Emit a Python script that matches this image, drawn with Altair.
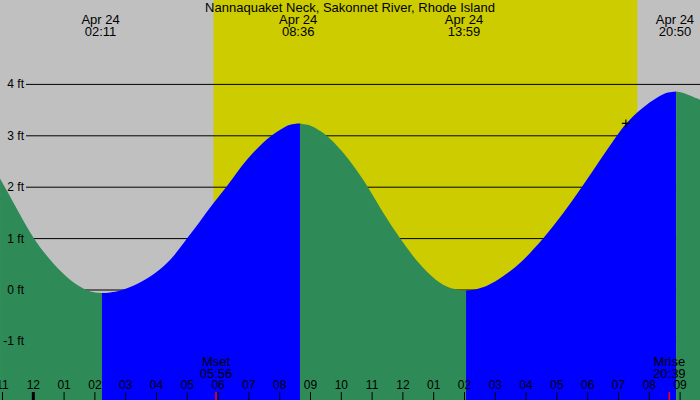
import altair as alt
import pandas as pd

# ---- data ----
TITLE = "Nannaquaket Neck, Sakonnet River, Rhode Island"

# tide curve (hours from Apr 24 00:00, height in ft), split at the turning points
seg_f0_t = [-1.08, -0.92, -0.46, 0.00, 0.54, 1.08, 1.62, 1.94, 2.23]
seg_f0_h = [2.17, 2.00, 1.50, 1.00, 0.58, 0.24, 0.02, -0.05, -0.06]
seg_r1_t = [2.23, 2.49, 2.82, 3.46, 4.11, 4.60, 4.98, 5.41, 5.84, 6.28, 6.71, 7.20, 7.69, 8.17, 8.40, 8.66]
seg_r1_h = [-0.06, -0.05, -0.02, 0.13, 0.38, 0.68, 1.00, 1.33, 1.69, 2.00, 2.38, 2.72, 3.00, 3.18, 3.23, 3.24]
seg_f2_t = [8.66, 8.92, 9.11, 9.58, 10.28, 10.88, 11.36, 11.91, 12.45, 13.10, 13.50, 13.79, 14.05]
seg_f2_h = [3.24, 3.22, 3.17, 3.00, 2.53, 2.00, 1.49, 1.00, 0.55, 0.16, 0.04, 0.00, -0.01]
seg_r3_t = [14.05, 14.31, 14.50, 14.94, 15.70, 16.13, 16.56, 17.21, 17.81, 18.40, 18.94, 19.24, 19.70, 20.35, 20.61, 20.87]
seg_r3_h = [-0.01, 0.00, 0.03, 0.13, 0.45, 0.72, 1.00, 1.49, 2.00, 2.53, 3.00, 3.24, 3.52, 3.79, 3.85, 3.86]
seg_f4_t = [20.87, 21.13, 21.65]
seg_f4_h = [3.86, 3.84, 3.70]

# tide events (top labels)
event_t = [2.183, 8.600, 13.983, 20.833]
event_date = ["Apr 24", "Apr 24", "Apr 24", "Apr 24"]
event_time = ["02:11", "08:36", "13:59", "20:50"]

# daylight
sunrise_t = 5.85
sunset_t = 19.61

# moon events
moon_t = [5.933, 20.65]
moon_name = ["Mset", "Mrise"]
moon_time = ["05:56", "20:39"]

# hour ticks
hour_t = list(range(-1, 22))
hour_lab = ["11", "12", "01", "02", "03", "04", "05", "06", "07", "08", "09", "10",
            "11", "12", "01", "02", "03", "04", "05", "06", "07", "08", "09"]

# y grid
grid_ft = [-1, 0, 1, 2, 3, 4]
grid_lab = ["-1 ft", "0 ft", "1 ft", "2 ft", "3 ft", "4 ft"]

# marker
mark_t = [19.24]
mark_h = [3.24]

# ---- scales ----
X0, X1 = -33.3 / 30.8, (700 - 33.3) / 30.8
Y0, Y1 = -110 / 51.4, 290 / 51.4
xs = alt.Scale(domain=[X0, X1], nice=False, zero=False)
ys = alt.Scale(domain=[Y0, Y1], nice=False, zero=False)

rows = []
for name, kind, ts, hs in [("f0", "fall", seg_f0_t, seg_f0_h), ("r1", "rise", seg_r1_t, seg_r1_h),
                           ("f2", "fall", seg_f2_t, seg_f2_h), ("r3", "rise", seg_r3_t, seg_r3_h),
                           ("f4", "fall", seg_f4_t, seg_f4_h)]:
    for t, h in zip(ts, hs):
        rows.append({"t": t, "h": h, "seg": name, "kind": kind})
curve = pd.DataFrame(rows)

FONT = "Liberation Sans"

day = alt.Chart(pd.DataFrame({"a": [sunrise_t], "b": [sunset_t]})).mark_rect(color="#cccc00").encode(
    x=alt.X("a:Q", scale=xs, axis=None), x2="b:Q", y=alt.value(0), y2=alt.value(400))

grid = alt.Chart(pd.DataFrame({"g": grid_ft})).mark_rule(color="black", strokeWidth=1).encode(
    y=alt.Y("g:Q", scale=ys, axis=None), x=alt.value(26), x2=alt.value(700))

area = alt.Chart(curve).mark_area(interpolate="basis").encode(
    x=alt.X("t:Q", scale=xs, axis=None),
    y=alt.Y("h:Q", scale=ys, axis=None, stack=None),
    y2=alt.value(400),
    color=alt.Color("kind:N", scale=alt.Scale(domain=["fall", "rise"], range=["#2e8b57", "#0000ff"]), legend=None),
    detail="seg:N",
)

ylab = alt.Chart(pd.DataFrame({"g": grid_ft, "l": grid_lab})).mark_text(
    align="right", baseline="middle", font=FONT, fontSize=12, color="black").encode(
    y=alt.Y("g:Q", scale=ys, axis=None), x=alt.value(24), text="l:N")

ev = pd.DataFrame({"t": event_t, "d": event_date, "tm": event_time})
ev1 = alt.Chart(ev).mark_text(align="center", baseline="alphabetic", font=FONT, fontSize=13, color="black").encode(
    x=alt.X("t:Q", scale=xs, axis=None), y=alt.value(24), text="d:N")
ev2 = alt.Chart(ev).mark_text(align="center", baseline="alphabetic", font=FONT, fontSize=13, color="black").encode(
    x=alt.X("t:Q", scale=xs, axis=None), y=alt.value(36), text="tm:N")

title = alt.Chart(pd.DataFrame({"s": [TITLE]})).mark_text(
    align="center", baseline="alphabetic", font=FONT, fontSize=13, color="black").encode(
    x=alt.value(350), y=alt.value(12), text="s:N")

hr = pd.DataFrame({"t": hour_t, "l": hour_lab})
hlab = alt.Chart(hr).mark_text(align="center", baseline="alphabetic", font=FONT, fontSize=12, color="black").encode(
    x=alt.X("t:Q", scale=xs, axis=None), y=alt.value(389), text="l:N")
hticks = alt.Chart(hr).mark_rule(color="black", strokeWidth=1).encode(
    x=alt.X("t:Q", scale=xs, axis=None), y=alt.value(392), y2=alt.value(400))
midnight = alt.Chart(pd.DataFrame({"t": [0]})).mark_rule(color="black", strokeWidth=3).encode(
    x=alt.X("t:Q", scale=xs, axis=None), y=alt.value(392), y2=alt.value(400))

mo = pd.DataFrame({"t": moon_t, "n": moon_name, "tm": moon_time})
mo1 = alt.Chart(mo).mark_text(align="center", baseline="alphabetic", font=FONT, fontSize=13, color="black").encode(
    x=alt.X("t:Q", scale=xs, axis=None), y=alt.value(366), text="n:N")
mo2 = alt.Chart(mo).mark_text(align="center", baseline="alphabetic", font=FONT, fontSize=13, color="black").encode(
    x=alt.X("t:Q", scale=xs, axis=None), y=alt.value(378), text="tm:N")
moticks = alt.Chart(mo).mark_rule(color="red", strokeWidth=1.5).encode(
    x=alt.X("t:Q", scale=xs, axis=None), y=alt.value(392), y2=alt.value(400))

plus = alt.Chart(pd.DataFrame({"t": mark_t, "h": mark_h})).mark_point(
    shape="M-1,0L1,0M0,-1L0,1", size=64, color="black", strokeWidth=1.2, filled=False, opacity=1).encode(
    x=alt.X("t:Q", scale=xs, axis=None), y=alt.Y("h:Q", scale=ys, axis=None))

chart = alt.layer(day, grid, area, ylab, ev1, ev2, title, hlab, hticks, midnight, mo1, mo2, moticks, plus).properties(
    width=700, height=400, padding=0, autosize="none", background="#c0c0c0"
).configure_view(stroke=None)

chart.save("out.html", embed_options={"renderer": "svg", "actions": False})
